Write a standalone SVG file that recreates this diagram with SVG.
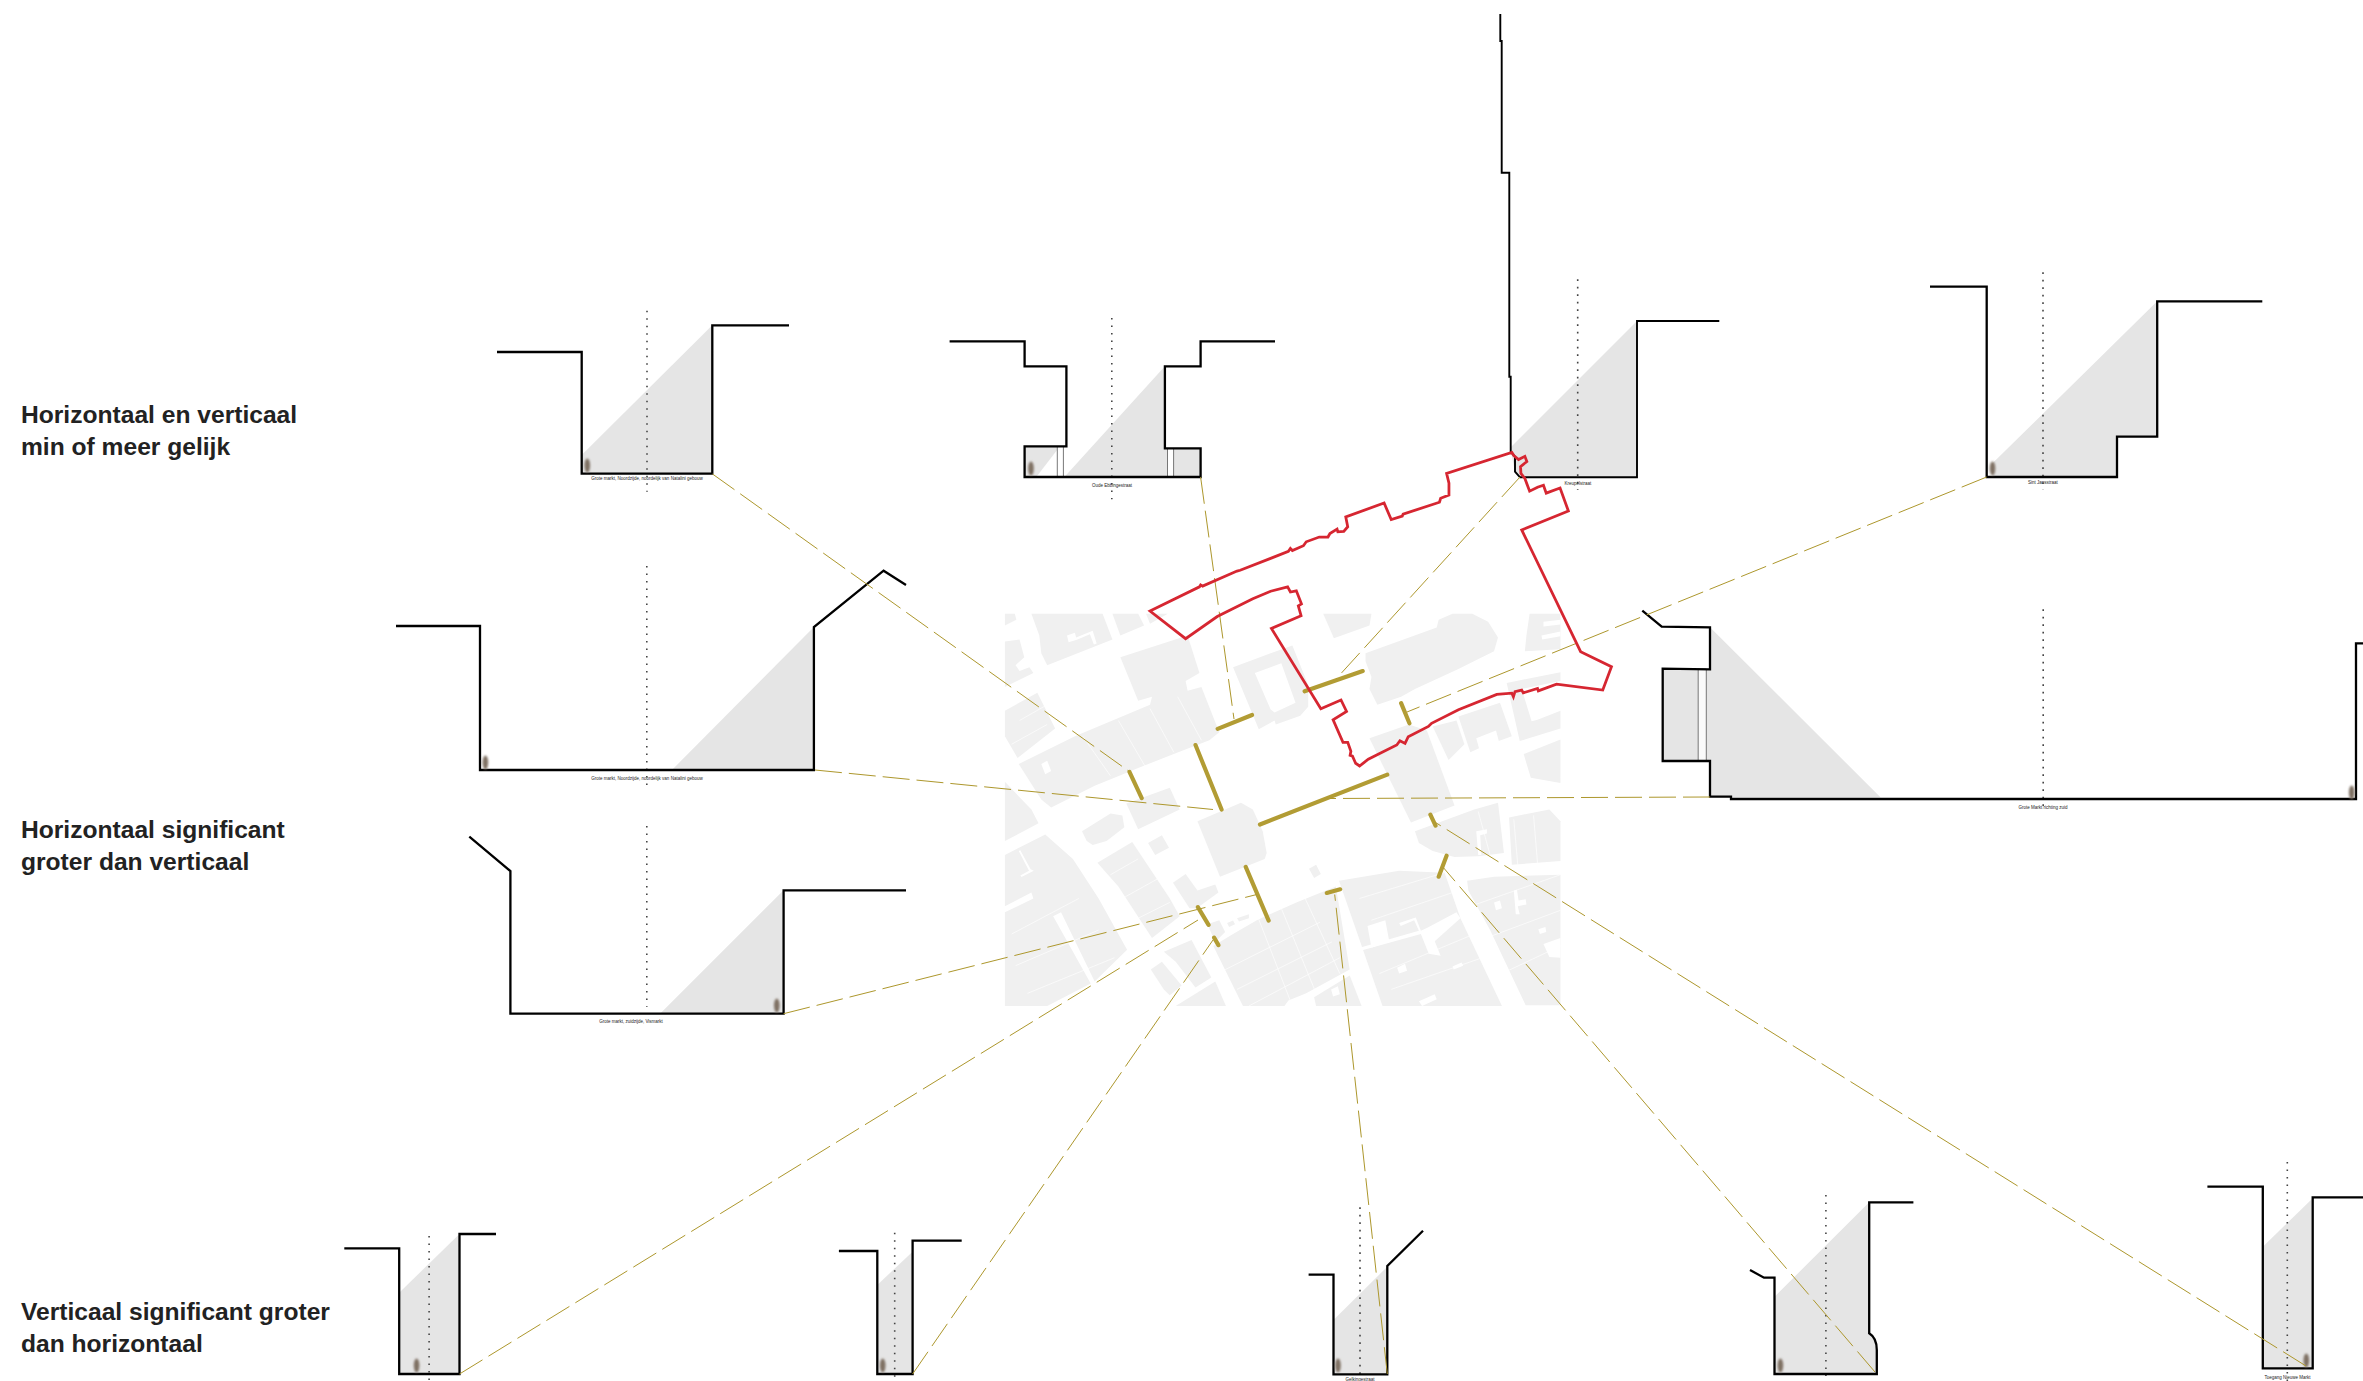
<svg xmlns="http://www.w3.org/2000/svg" width="2363" height="1381" viewBox="0 0 2363 1381">
<style>
text{font-family:"Liberation Sans",Arial,sans-serif}
.h{font-size:24.6px;font-weight:700;fill:#222}
.l{font-size:4.5px;fill:#222;text-anchor:middle}
.s{fill:none;stroke:#000;stroke-width:2.3;stroke-linejoin:miter}
.t{fill:none;stroke:#000;stroke-width:1.9}
.sh{fill:#e5e5e5}
.d{fill:none;stroke:#444;stroke-width:1.6;stroke-dasharray:1.6 5.9}
.c{fill:none;stroke:#ad972c;stroke-width:1;stroke-dasharray:27 7}
.g{fill:none;stroke:#b29c34;stroke-width:10.5;stroke-linecap:round}
.b{fill:#f0f0f0;stroke:none}
.r{fill:none;stroke:#d62631;stroke-width:7;stroke-linejoin:miter}
.w{fill:#fff}
.lot{fill:none;stroke:#fff;stroke-width:1.6}
.cl{fill:#fff;stroke:#555;stroke-width:.8}
</style>
<defs>
<filter id="bl" x="-100%" y="-50%" width="300%" height="200%"><feGaussianBlur stdDeviation="0.9"/></filter>
<g id="p"><ellipse cx="0" cy="-7.5" rx="2.8" ry="7" fill="#7f7164" filter="url(#bl)"/></g>
</defs>
<rect width="2363" height="1381" fill="#fff"/>

<g id="map" transform="translate(980 420) scale(.39541)">
<path class="b" d="M63 490H88L92 505L63 520Z"/>
<path class="b" d="M130 490L150 545L155 590L170 620L335 555L310 490Z"/>
<path class="w" d="M220 545L240 538L243 550L285 533L295 565L288 568L278 542L245 556L224 562Z"/>
<path class="b" d="M335 490H400L415 520L355 545Z"/>
<path class="b" d="M420 490H475L430 515Z"/>
<path class="b" d="M63 560L100 555L112 600L90 620L100 635L125 625L135 640L63 675Z"/>
<path class="b" d="M355 600L525 545L555 640L520 660L525 685L560 675L605 790L580 810L490 845L400 880L340 905L290 925L180 980L155 960L98 870L240 800L430 720L435 700L400 710Z"/>
<path class="w" d="M155 870L170 862L180 888L165 896Z"/>
<path class="b" d="M63 735L145 690L190 780L95 855L63 800Z"/>
<path class="b" d="M370 970L480 930L505 985L400 1035Z"/>
<path class="b" d="M258 1040L330 995L360 1000L365 1030L320 1065L285 1075L270 1065Z"/>
<path class="b" d="M425 1070L460 1050L478 1082L443 1100Z"/>
<path class="b" d="M63 915L130 985L148 1020L63 1065Z"/>
<path class="b" d="M63 1100L165 1048L235 1110L300 1210L372 1340L290 1420L205 1245L185 1255L280 1425L170 1482H63V1245L135 1210L130 1195L63 1230Z"/>
<path class="w" d="M98 1090L102 1088L128 1136L136 1140L105 1156L102 1152L124 1140Z"/>
<path class="b" d="M297 1120L385 1067L480 1210L505 1255L435 1310L350 1180Z"/>
<path class="b" d="M488 1170L520 1148L550 1190L595 1175L603 1195L548 1235L530 1235Z"/>
<path class="b" d="M550 1015L660 968L690 985L715 1040L725 1095L720 1110L607 1155Z"/>
<path class="b" fill-rule="evenodd" d="M640 625L790 570L830 670V725L810 748L748 770L745 760L705 782ZM695 640L762 615L798 715L745 740L735 732Z"/>
<path class="b" d="M975 590L1155 525L1160 505L1195 490H1245L1285 510L1310 550L1300 585L1210 630L1100 680L1065 700L1005 720L985 680L990 650L975 610Z"/>
<path class="b" d="M868 490H990L985 520L895 552Z"/>
<path class="b" d="M1390 490H1468V580L1378 585L1382 545Z"/>
<path class="w" d="M1425 510L1468 505V517L1425 522ZM1420 545L1468 535V547L1422 555Z"/>
<path class="b" d="M985 805L1085 770L1130 785L1200 975L1090 1018Z"/>
<path class="b" d="M1145 775L1205 760L1225 820L1185 860Z"/>
<path class="b" d="M1210 750L1315 715L1345 800L1312 812L1305 785L1255 805L1262 830L1240 840Z"/>
<path class="b" d="M1332 665L1468 638V660L1370 680L1395 762L1410 758L1468 735V780L1365 812Z"/>
<path class="b" d="M1375 845L1468 808V918L1393 905Z"/>
<path class="b" d="M1100 1040L1250 985L1310 968L1325 1095L1260 1103L1200 1105L1145 1090L1110 1070Z"/>
<path class="w" d="M1255 1040L1282 1035V1046L1265 1050L1268 1100H1260Z"/>
<path class="b" d="M1338 1005L1440 985L1468 1015V1115L1345 1125Z"/>
<path class="b" d="M832 1135L850 1125L862 1148L845 1158Z"/>
<path class="b" d="M575 1275L605 1265L620 1295L595 1320Z"/>
<path class="b" d="M625 1272L640 1266L645 1275L630 1282ZM650 1260L680 1250V1260L655 1268Z"/>
<path class="b" d="M590 1330L640 1300L700 1265L800 1220L900 1180L935 1390L825 1450L780 1468L770 1482H665Z"/>
<path class="b" d="M845 1460L935 1405L965 1482H850Z"/>
<path class="w" d="M888 1440L905 1432L910 1452L893 1458Z"/>
<path class="b" d="M908 1165L1060 1140L1175 1145L1215 1260L1320 1482H1018Z"/>
<path class="w" d="M980 1280L1025 1265L1035 1318L990 1335Z"/>
<path class="w" d="M1060 1272L1102 1258L1115 1292L1130 1285L1205 1245L1215 1260L1150 1318L1165 1355L1135 1350L1115 1300L962 1342L960 1335L1110 1292L1098 1265L1064 1280Z"/>
<path class="w" d="M1055 1385L1075 1375L1080 1393L1060 1400ZM1195 1382L1218 1372L1222 1380L1198 1390ZM1110 1470L1150 1452L1155 1465L1118 1482Z"/>
<path class="b" d="M1232 1165L1300 1155L1468 1150V1480H1380L1290 1290L1235 1190Z"/>
<path class="w" d="M1300 1220L1315 1215L1320 1235L1305 1240ZM1350 1190L1358 1188L1362 1215L1380 1212L1382 1225L1360 1230L1365 1250H1355ZM1412 1288L1430 1282L1432 1295L1416 1300ZM1425 1325L1468 1310V1360L1440 1358Z"/>
<path class="b" d="M465 1345L535 1315L585 1410L545 1435L495 1370Z"/>
<path class="b" d="M432 1390L460 1370L510 1430L480 1455L465 1440Z"/>
<path class="b" d="M495 1482L595 1420L622 1482Z"/>
<path class="lot" d="M620 1390L860 1270M650 1440L890 1320M680 1482L910 1360M700 1250L790 1482M760 1230L850 1450M820 1205L910 1400M960 1210L1190 1140M990 1265L1210 1190M1240 1230L1468 1150M1280 1310L1468 1240M1320 1400L1468 1330M1010 1400L1250 1300M1040 1440L1270 1360M80 1300L250 1210M90 1380L300 1290M120 1450L340 1360M330 1150L400 1110M360 1210L450 1160M400 1260L480 1220M260 800L330 900M350 760L420 880M430 730L490 840M500 700L560 810M100 760L170 720M80 820L170 770M1350 1010L1360 1125M1400 1000L1410 1120M1260 990L1290 1100"/>
</g>

<g id="routes" transform="translate(980 420) scale(.39541)">
<path class="g" d="M601 781L688 746M545 822L611 985M378 890L409 956M708 1023L1030 897M821 686L968 635M1065 716L1086 767M1139 998L1152 1026M1180 1102L1160 1155M877 1196L911 1187M672 1130L730 1266M551 1232L578 1277M592 1309L603 1328"/>
</g>

<g id="sec-1">
<path class="sh" d="M581.7 455L712.3 325.3V473.7H581.7Z"/>
<path class="d" d="M647 310.7V491.7"/>
<path class="s" d="M497 352H581.7V473.7H712.3V325.3H789"/>
<use href="#p" x="587.3" y="473"/>
<text class="l" x="647" y="480">Grote markt, Noordzijde, noordelijk van Natalini gebouw</text>
</g>

<g id="sec-2">
<path class="sh" d="M1024.6 446.3H1060L1036.3 477H1024.6Z"/>
<path class="sh" d="M1164.9 366.3V448.3H1200.6V477H1064.4Z"/>
<path class="cl" d="M1057.3 446.5H1063.4V477H1057.3Z"/>
<path class="cl" d="M1167.5 448.5H1173.6V477H1167.5Z"/>
<path class="d" d="M1111.8 318V499.3"/>
<path class="s" d="M949.6 341.3H1024.6V366.3H1066.4V446.3H1024.6V477H1200.6V448.3H1164.9V366.3H1200.6V341.3H1275"/>
<use href="#p" x="1031" y="476"/>
<text class="l" x="1112" y="486.5">Oude Ebbingestraat</text>
</g>

<g id="sec-3">
<path class="sh" d="M1511 447L1637 321V477.3H1520L1515 471.7L1511 452Z"/>
<path class="d" d="M1577.7 279.3V490"/>
<path class="t" d="M1500.3 14V41H1501.7V172.7H1509.3V376.7H1510.7V451.7L1515 456.7V471.7L1520 477.3H1637V321H1719.3"/>
<text class="l" x="1578" y="485">Kreupelstraat</text>
</g>

<g id="sec-4">
<path class="sh" d="M1992.5 463.3L2157.2 301.3V436.7H2117V477H1992.5Z"/>
<path class="d" d="M2043 272.3V490"/>
<path class="s" d="M1930 286.7H1986.7V477H2117V436.7H2157.2V301.3H2262.3"/>
<use href="#p" x="1992.5" y="476"/>
<text class="l" x="2043" y="484">Sint Jansstraat</text>
</g>

<g id="sec-5">
<path class="sh" d="M672.9 769L813.9 627V770H672.9Z"/>
<path class="d" d="M646.8 566V790.7"/>
<path class="s" d="M396 626H480V770H813.9V627L883.6 570.7L906 585"/>
<use href="#p" x="485.4" y="770"/>
<text class="l" x="647" y="780">Grote markt, Noordzijde, noordelijk van Natalini gebouw</text>
</g>

<g id="sec-6">
<path class="sh" d="M661 1012.7L783.6 890.3V1013.7H661Z"/>
<path class="d" d="M646.8 826V1006.7"/>
<path class="s" d="M469.3 836.7L510.4 871V1013.7H783.6V890.3H906"/>
<use href="#p" x="776.8" y="1013"/>
<text class="l" x="631" y="1023">Grote markt, zuidzijde, Vismarkt</text>
</g>

<g id="sec-7">
<path class="sh" d="M1710 627.3L1880.7 797.5H1731V796.7H1710Z"/>
<path class="sh" d="M1662.7 668.7H1698.2V761H1662.7Z"/>
<path class="sh" d="M1706.3 669H1710V761H1706.3Z"/>
<path class="cl" d="M1698.2 669V761H1706.3V669Z" style="fill:#fafafa"/>
<path class="d" d="M2043.2 609.3V811.7"/>
<path class="s" d="M1642.3 610.7L1661.7 626.7L1710 627.3V669.3L1662.7 668.7V761H1710V796.7H1731V799H2356V643.3H2363"/>
<use href="#p" x="2351.7" y="800"/>
<text class="l" x="2043" y="809">Grote Markt richting zuid</text>
</g>

<g id="sec-8">
<path class="sh" d="M399.2 1292.7L459.5 1234V1374H399.2Z"/>
<path class="d" d="M429.1 1236V1380"/>
<path class="s" d="M344.3 1248.3H399.2V1374H459.5V1234H496"/>
<use href="#p" x="416.6" y="1373"/>
</g>

<g id="sec-9">
<path class="sh" d="M877.3 1285L912.6 1251.7V1374H877.3Z"/>
<path class="d" d="M894.7 1232.7V1376.7"/>
<path class="s" d="M838.9 1251H877.3V1374H912.6V1240.7H961.7"/>
<use href="#p" x="882.7" y="1373"/>
</g>

<g id="sec-10">
<path class="sh" d="M1333.5 1320L1387.3 1266.7V1374H1333.5Z"/>
<path class="d" d="M1360 1207.3V1374"/>
<path class="s" d="M1308.6 1274.7H1333.5V1374.3H1387.3V1266L1423 1230.7"/>
<use href="#p" x="1338" y="1373"/>
<text class="l" x="1360" y="1380.5">Gelkingestraat</text>
</g>

<g id="sec-11">
<path class="sh" d="M1774.5 1296.7L1869.2 1202.3V1333.3Q1876.8 1338 1876.8 1350V1374H1774.5Z"/>
<path class="d" d="M1825.9 1195V1376"/>
<path class="s" d="M1750 1270L1764 1277.7H1774.5V1374H1876.8V1350Q1876.8 1338 1869.2 1333.3V1202.3H1913.4"/>
<use href="#p" x="1780.4" y="1373"/>
</g>

<g id="sec-12">
<path class="sh" d="M2262.8 1246.7L2312.7 1198.3V1368.3H2262.8Z"/>
<path class="d" d="M2287.3 1162V1381"/>
<path class="s" d="M2207.4 1186.7H2262.8V1368.3H2312.7V1197.3H2363"/>
<use href="#p" x="2306.3" y="1368"/>
<text class="l" x="2287.5" y="1378.5">Toegang Nieuwe Markt</text>
</g>

<g id="connectors">
<path class="c" d="M712.5 474L1130 772"/>
<path class="c" d="M815 770L1213 809.5"/>
<path class="c" d="M783.6 1013.7L1256.8 894.5"/>
<path class="c" d="M1200.6 477L1234 719"/>
<path class="c" d="M1520 477L1336 679"/>
<path class="c" d="M1986.7 477L1407 712"/>
<path class="c" d="M1710 797L1330 798.5"/>
<path class="c" d="M459.5 1374L1198 920"/>
<path class="c" d="M912.6 1374L1213 940"/>
<path class="c" d="M1387.3 1374L1334.7 894.5"/>
<path class="c" d="M1875 1372L1443.4 867.6"/>
<path class="c" d="M2306 1366L1435.5 822.5"/>
</g>

<g id="boundary" transform="translate(980 420) scale(.39541)">
<path class="r" d="M430 483L555 422L558 417L563 420L650 382L658 380L735 350L780 332L785 325L790 330L818 318L825 308L858 296L880 296L885 287L903 276L905 283L920 282L930 270L925 245L1022 210L1040 252L1068 243L1070 238L1162 208L1165 198L1186 190V160L1180 135L1345 82L1350 90L1362 100L1378 92L1383 105L1367 118L1368 135L1378 148L1390 180L1410 170L1425 165L1432 185L1467 172L1488 230L1370 278L1519 586L1597 624L1575 683L1458 668L1412 685L1410 679L1374 690L1370 683L1353 687L1349 700L1345 691L1307 694L1210 733L1142 767L1134 775L1083 801L1075 818L1062 811L1054 822L1012 843L982 858L960 875L950 868L942 850L936 848L938 838L930 815L918 815L893 758L927 737L913 708L862 730L737 527L812 495L805 470L813 465L800 432L785 435L778 422L735 433L690 452L600 497L520 553Z"/>
</g>

<g id="headings">
<text class="h" x="21" y="423">Horizontaal en verticaal</text>
<text class="h" x="21" y="455">min of meer gelijk</text>
<text class="h" x="21" y="838">Horizontaal significant</text>
<text class="h" x="21" y="870">groter dan verticaal</text>
<text class="h" x="21" y="1320">Verticaal significant groter</text>
<text class="h" x="21" y="1352">dan horizontaal</text>
</g>
</svg>
